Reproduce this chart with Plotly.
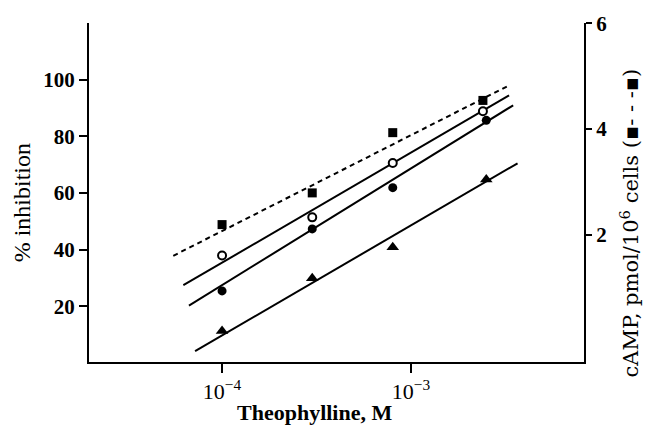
import plotly.graph_objects as go

# ---- data ----
conc = [1e-4, 3e-4, 8e-4, 2.4e-3]
conc_b = [1e-4, 3e-4, 8e-4, 2.5e-3]
open_circle = [37.9, 51.4, 70.6, 88.9]        # % inhibition
filled_circle = [25.4, 47.3, 61.9, 85.7]      # % inhibition
triangle = [11.2, 29.9, 40.8, 64.8]           # % inhibition
camp = [2.19, 2.79, 3.93, 4.54]               # cAMP, pmol/10^6 cells

# fitted lines (end points in data units)
fit_open_x = [6.24e-5, 3.30e-3]
fit_open_y = [27.4, 94.5]
fit_filled_x = [6.68e-5, 3.47e-3]
fit_filled_y = [20.2, 91.0]
fit_tri_x = [7.2e-5, 3.66e-3]
fit_tri_y = [4.1, 70.5]
fit_camp_x = [5.52e-5, 3.24e-3]
fit_camp_y = [1.60, 4.81]

left_ticks = [20, 40, 60, 80, 100]
right_ticks = [2, 4, 6]
x_ticks = [1e-4, 1e-3]
x_ticktext = ["10<sup>\u22124</sup>", "10<sup>\u22123</sup>"]

fig = go.Figure()
line_style = dict(color="black", width=2)
fig.add_trace(go.Scatter(x=fit_camp_x, y=fit_camp_y, mode="lines", yaxis="y2",
                         line=dict(color="black", width=2, dash="5px,4px")))
fig.add_trace(go.Scatter(x=fit_open_x, y=fit_open_y, mode="lines", line=line_style))
fig.add_trace(go.Scatter(x=fit_filled_x, y=fit_filled_y, mode="lines", line=line_style))
fig.add_trace(go.Scatter(x=fit_tri_x, y=fit_tri_y, mode="lines", line=line_style))

fig.add_trace(go.Scatter(x=conc, y=camp, mode="markers", yaxis="y2",
                         marker=dict(symbol="square", size=9, color="black")))
fig.add_trace(go.Scatter(x=conc, y=open_circle, mode="markers",
                         marker=dict(symbol="circle", size=8, color="white",
                                     line=dict(color="black", width=2))))
fig.add_trace(go.Scatter(x=conc_b, y=filled_circle, mode="markers",
                         marker=dict(symbol="circle", size=9, color="black")))
fig.add_trace(go.Scatter(x=conc_b, y=triangle, mode="markers",
                         marker=dict(symbol="triangle-up", size=11, color="black")))

tickfont_bold = dict(family="Liberation Serif", size=21, color="black", weight="bold")

fig.update_layout(
    width=648, height=428,
    margin=dict(l=89, r=64, t=19, b=66),
    paper_bgcolor="white", plot_bgcolor="white",
    showlegend=False,
    xaxis=dict(type="log", range=[-4.704, -2.085], tickvals=x_ticks, ticktext=x_ticktext,
               showgrid=False, zeroline=False, showline=True, linecolor="black", linewidth=2,
               ticks="outside", ticklen=9, tickwidth=2, tickcolor="black",
               tickfont=dict(family="Liberation Serif", size=22, color="black")),
    yaxis=dict(range=[0.26, 120.1], tickvals=left_ticks,
               showgrid=False, zeroline=False, showline=True, linecolor="black", linewidth=2,
               ticks="outside", ticklen=8, tickwidth=2, tickcolor="black",
               tickfont=tickfont_bold),
    yaxis2=dict(range=[-0.41, 6.005], tickvals=right_ticks, overlaying="y", side="right",
                showgrid=False, zeroline=False, showline=True, linecolor="black", linewidth=2,
                ticks="outside", ticklen=6, tickwidth=2, tickcolor="black",
                tickfont=tickfont_bold),
    annotations=[
        dict(text="% inhibition", xref="paper", yref="paper", x=-0.136, y=0.47,
             textangle=-90, showarrow=False, xanchor="center", yanchor="middle",
             font=dict(family="Liberation Serif", size=24, color="black")),
        dict(text="<b>Theophylline, M</b>", xref="paper", yref="paper", x=0.456, y=-0.148,
             showarrow=False, xanchor="center", yanchor="middle",
             font=dict(family="Liberation Serif", size=22, color="black")),
        dict(text="cAMP, pmol/10<sup>6</sup> cells (\u25aa- - -\u25aa)", xref="paper", yref="paper",
             x=1.092, y=0.41, textangle=-90, showarrow=False,
             xanchor="center", yanchor="middle",
             font=dict(family="DejaVu Serif", size=21, color="black")),
    ],
)

fig.write_html("out.html")
